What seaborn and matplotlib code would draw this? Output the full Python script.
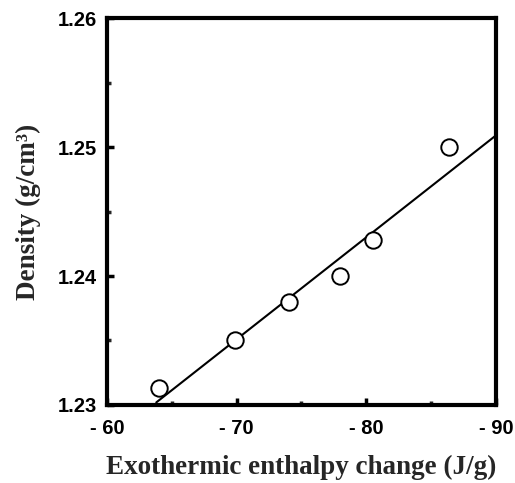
import matplotlib
matplotlib.use("Agg")
import matplotlib.pyplot as plt
import seaborn as sns
import pandas as pd
from matplotlib.ticker import MultipleLocator

# Data
enthalpy = [-64.0, -69.9, -74.0, -78.0, -80.5, -86.4]
density = [1.2313, 1.2350, 1.2380, 1.2400, 1.2428, 1.2500]
fit_x = [-63.8, -90.0]
fit_y = [1.2302, 1.2509]
xticks = [-60, -70, -80, -90]
xtick_labels = ["- 60", "- 70", "- 80", "- 90"]
yticks = [1.23, 1.24, 1.25, 1.26]
ytick_labels = ["1.23", "1.24", "1.25", "1.26"]

sns.set_style("ticks")
plt.rcParams['font.family'] = ['Liberation Sans', 'DejaVu Sans']

fig = plt.figure(figsize=(5.15, 4.83), dpi=100)
ax = fig.add_axes([0.2078, 0.1615, 0.963 - 0.2078, 0.9627 - 0.1615])

df_pts = pd.DataFrame({"x": enthalpy, "y": density})
df_fit = pd.DataFrame({"x": fit_x, "y": fit_y})

sns.lineplot(data=df_fit, x="x", y="y", ax=ax, color="black", linewidth=1.5)
sns.scatterplot(data=df_pts, x="x", y="y", ax=ax, marker="o", s=140,
                facecolor="white", edgecolor="black", linewidth=1.4, zorder=3)

ax.set_xlim(-60, -90)
ax.set_ylim(1.23, 1.26)
ax.set_xticks(xticks)
ax.set_xticklabels(xtick_labels)
ax.set_yticks(yticks)
ax.set_yticklabels(ytick_labels)
ax.xaxis.set_minor_locator(MultipleLocator(5))
ax.yaxis.set_minor_locator(MultipleLocator(0.005))

for s in ax.spines.values():
    s.set_linewidth(3.0)
    s.set_color("black")
    s.set_visible(True)

ax.tick_params(which="major", direction="in", length=5, width=2.5,
               labelsize=14.5, pad=7, colors="black")
ax.tick_params(axis="x", which="major", pad=10)
ax.tick_params(which="minor", direction="in", length=3, width=2.5)
for lab in ax.get_xticklabels() + ax.get_yticklabels():
    lab.set_fontweight("bold")

ax.set_xlabel("Exothermic enthalpy change (J/g)", fontsize=19.5, fontweight="bold",
              family=["Liberation Serif", "DejaVu Serif"], labelpad=12)
ax.set_ylabel("Density (g/cm³)", fontsize=19.5, fontweight="bold",
              family=["Liberation Serif", "DejaVu Serif"], labelpad=12)

fig.savefig("out.png", dpi=100)
